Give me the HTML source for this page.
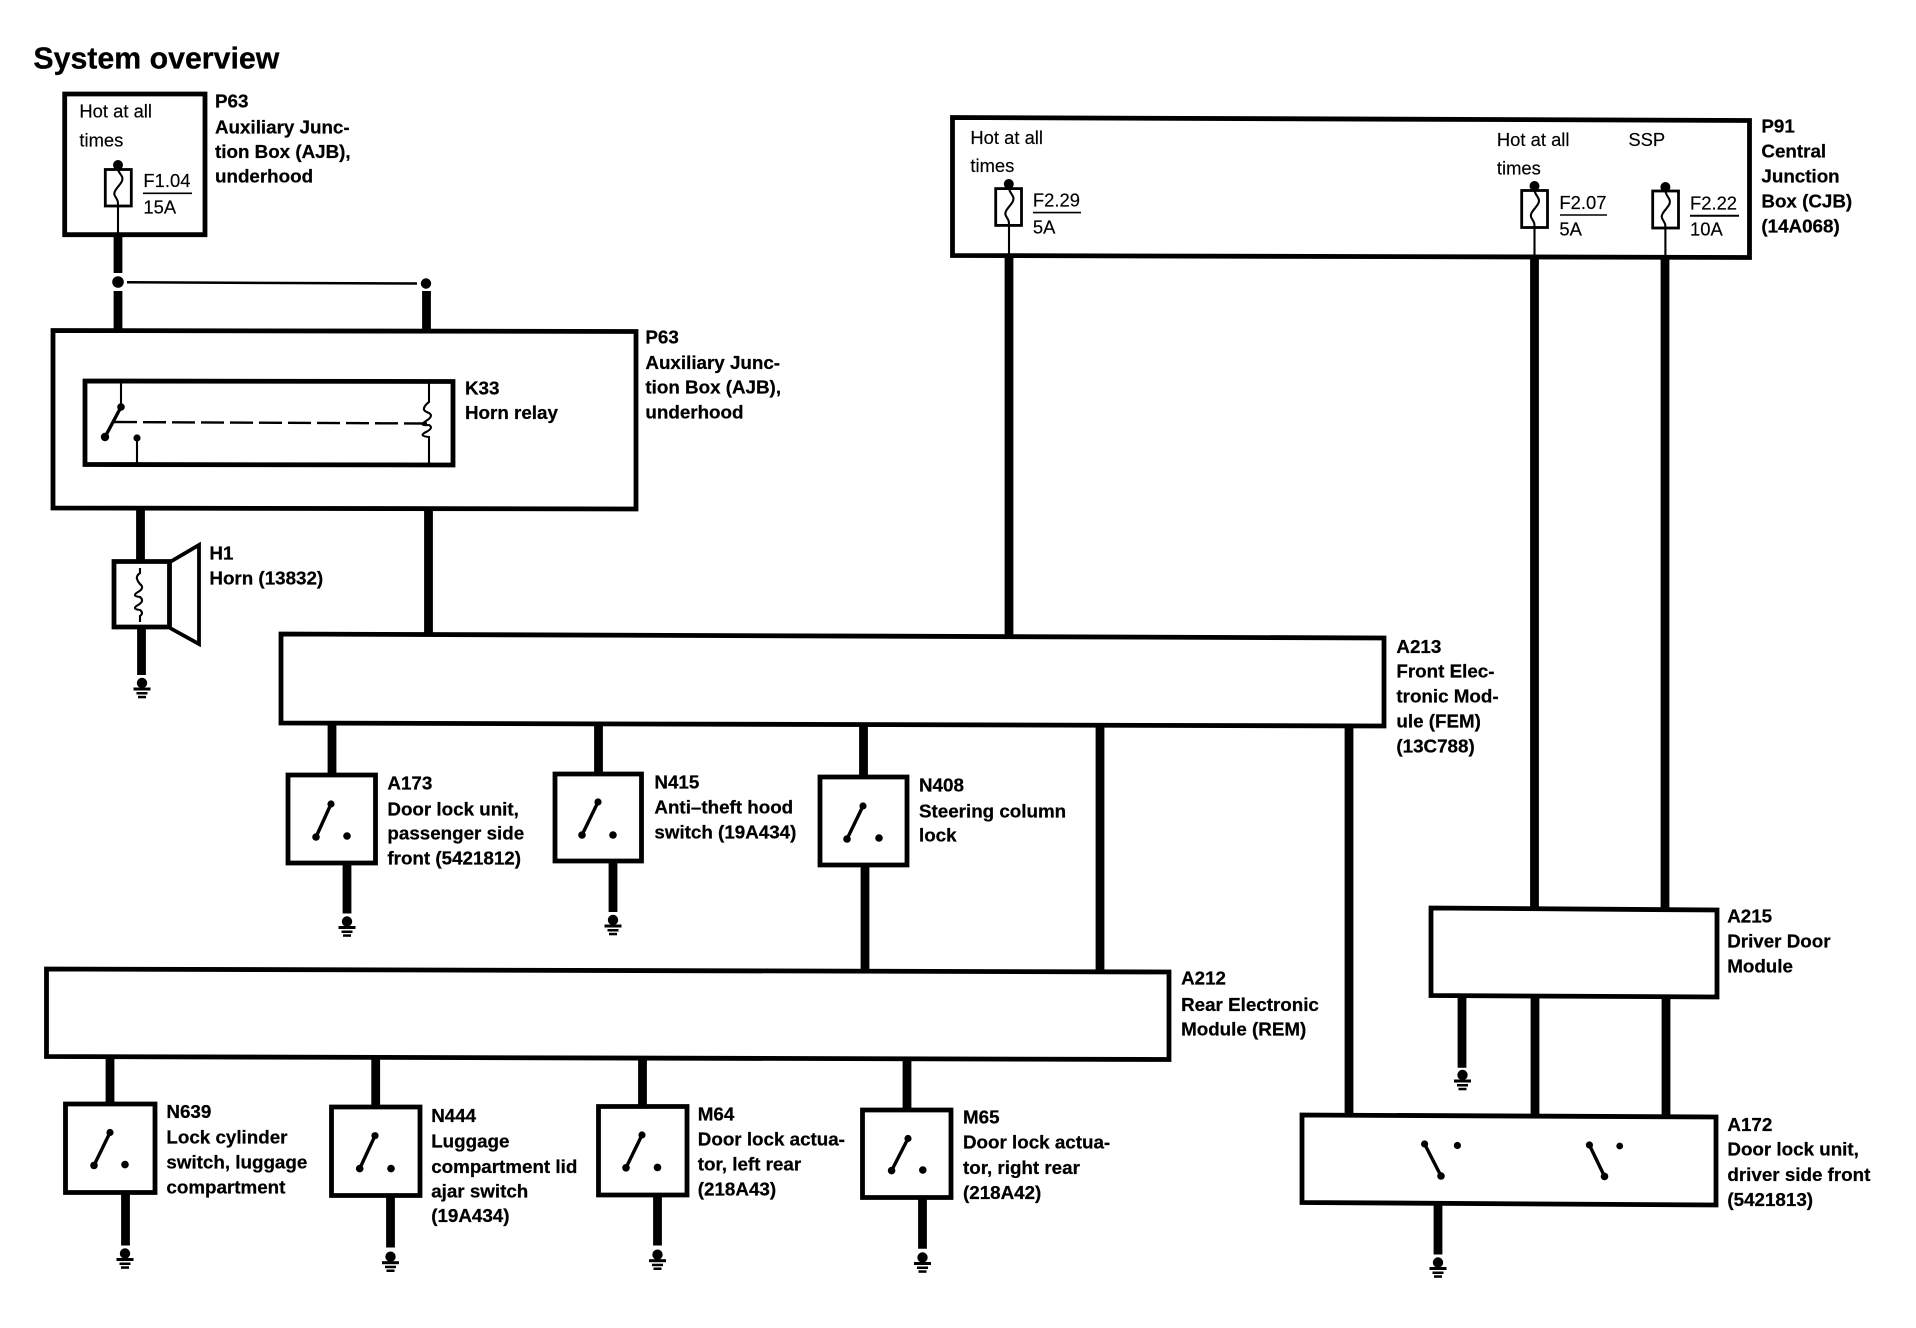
<!DOCTYPE html>
<html lang="en">
<head>
<meta charset="utf-8">
<title>System overview</title>
<style>
html,body{margin:0;padding:0;background:#fff;width:1916px;height:1328px;overflow:hidden}
svg{display:block}
text{font-family:"Liberation Sans",sans-serif;fill:#000;transform:translate(-.6px,-.4px)}
.t{font-size:30.3px;font-weight:bold;stroke:#000;stroke-width:.3}
.b{font-size:18.8px;font-weight:bold;stroke:#000;stroke-width:.25}
.r{font-size:18.4px;stroke:#000;stroke-width:.15}
.box{fill:none;stroke:#000;stroke-width:4.8;stroke-linejoin:miter}
.w{stroke:#000;stroke-width:8.8;fill:none}
.n{stroke:#000;stroke-width:2.1;fill:none}
.arm{stroke:#000;stroke-width:3.4;fill:none}
.f{fill:none;stroke:#000;stroke-width:2.8}
</style>
</head>
<body>
<svg width="1916" height="1328" viewBox="0 0 1916 1328" xmlns="http://www.w3.org/2000/svg">
<defs>
<g id="gnd">
<circle cx="0" cy="0" r="5.2" fill="#000"/>
<rect x="-8.5" y="4.5" width="17" height="3" fill="#000"/>
<rect x="-5.5" y="9" width="11" height="2.5" fill="#000"/>
<rect x="-4" y="12.8" width="8" height="2.5" fill="#000"/>
</g>
</defs>
<rect width="1916" height="1328" fill="#fff"/>

<text class="t" x="34" y="69">System overview</text>

<!-- P63 top box -->
<polygon class="box" points="64.7,94 205,94 205,234.7 64.7,234.7"/>
<text class="r" x="80" y="118">Hot at all</text>
<text class="r" x="80" y="147">times</text>
<circle cx="118" cy="165" r="5" fill="#000"/>
<rect class="f" x="105.3" y="169.5" width="26" height="36.5"/>
<path class="n" d="M118 169.5C119 174 124 176 122 181S112 191 115 196S118 201 118 206V236"/>
<text class="r" x="144" y="187.5">F1.04</text>
<line x1="143" y1="193.3" x2="192" y2="193.3" stroke="#000" stroke-width="1.6"/>
<text class="r" x="144" y="214">15A</text>
<text class="b" x="215.6" y="108">P63</text>
<text class="b" x="215.6" y="134">Auxiliary Junc-</text>
<text class="b" x="215.6" y="158.5">tion Box (AJB),</text>
<text class="b" x="215.6" y="183">underhood</text>

<!-- junction -->
<line class="w" x1="118" y1="236" x2="118" y2="273"/>
<circle cx="118" cy="282" r="5.8" fill="#000"/>
<line x1="127" y1="282.3" x2="417" y2="283.5" stroke="#000" stroke-width="2.5"/>
<circle cx="426" cy="283.5" r="5.2" fill="#000"/>
<line class="w" x1="118" y1="291" x2="118" y2="330"/>
<line class="w" x1="426.5" y1="291" x2="426.5" y2="331"/>

<!-- P63 big box -->
<polygon class="box" points="53,330.5 636,331.5 636,509 53,508"/>
<text class="b" x="646" y="344">P63</text>
<text class="b" x="646" y="369.6">Auxiliary Junc-</text>
<text class="b" x="646" y="394">tion Box (AJB),</text>
<text class="b" x="646" y="419">underhood</text>

<!-- K33 -->
<polygon class="box" points="85,381 453,381.5 453,465 85,464.5"/>
<line class="n" x1="121" y1="383" x2="121" y2="407"/>
<circle cx="121" cy="407" r="3.8" fill="#000"/>
<line class="arm" x1="121" y1="407" x2="105" y2="437"/>
<circle cx="105" cy="437" r="4.2" fill="#000"/>
<line x1="114" y1="422" x2="427" y2="423.5" stroke="#000" stroke-width="2.4" stroke-dasharray="23 6"/>
<circle cx="137" cy="438" r="3.6" fill="#000"/>
<line class="n" x1="137" y1="438" x2="137" y2="464"/>
<path class="n" d="M429 383V402Q425 405 424 408T429 413Q434 416 426 421T429 425Q434 428 426 432T429 437V464"/>
<text class="b" x="465.6" y="395">K33</text>
<text class="b" x="465.6" y="419.6">Horn relay</text>

<!-- Horn -->
<line class="w" x1="140.5" y1="510" x2="140.5" y2="561"/>
<polygon class="box" points="114,561.5 169.5,561.5 169.5,627 114,627"/>
<polyline points="170,562 199,545 199,644 170,628" fill="none" stroke="#000" stroke-width="3.8"/>
<path class="n" d="M140 568V573Q136 576 137 579T140 584Q145 588 138 592T140 597Q145 601 138 605T140 610Q144 613 140 616V622"/>
<line class="w" x1="141.5" y1="628" x2="141.5" y2="675"/>
<use href="#gnd" x="142" y="683"/>
<text class="b" x="210" y="560">H1</text>
<text class="b" x="210" y="585">Horn (13832)</text>

<line class="w" x1="428.5" y1="510" x2="428.5" y2="634"/>

<!-- P91 -->
<polygon class="box" points="952.5,117.5 1749.5,120.5 1749.5,257.5 952.5,255.5"/>
<text class="r" x="971" y="144.5">Hot at all</text>
<text class="r" x="971" y="172.4">times</text>
<circle cx="1008.8" cy="184" r="5" fill="#000"/>
<rect class="f" x="995.7" y="188.6" width="25.8" height="36.8"/>
<path class="n" d="M1009 188.6C1010 194 1015 196 1013 201S1003 211 1006 216S1009 221 1009 225.5V258"/>
<text class="r" x="1033.5" y="207">F2.29</text>
<line x1="1033" y1="212.6" x2="1081" y2="212.6" stroke="#000" stroke-width="1.6"/>
<text class="r" x="1033.5" y="234">5A</text>

<text class="r" x="1497.5" y="146.5">Hot at all</text>
<text class="r" x="1497.5" y="175">times</text>
<circle cx="1534.5" cy="186" r="5" fill="#000"/>
<rect class="f" x="1521.7" y="190.5" width="25.8" height="37"/>
<path class="n" d="M1534.5 190.5C1535.5 196 1540.5 198 1538.5 203S1528.5 213 1531.5 218S1534.5 223 1534.5 227.5V260"/>
<text class="r" x="1560" y="209.5">F2.07</text>
<line x1="1560" y1="215" x2="1607" y2="215" stroke="#000" stroke-width="1.6"/>
<text class="r" x="1560" y="236">5A</text>

<text class="r" x="1629" y="146.5">SSP</text>
<circle cx="1665.4" cy="187" r="5" fill="#000"/>
<rect class="f" x="1652.7" y="191" width="25.8" height="37"/>
<path class="n" d="M1665.4 191C1666.4 197 1671.4 199 1669.4 204S1659.4 214 1662.4 219S1665.4 224 1665.4 228.5V260"/>
<text class="r" x="1690.6" y="210">F2.22</text>
<line x1="1690" y1="215.7" x2="1739" y2="215.7" stroke="#000" stroke-width="2"/>
<text class="r" x="1690.6" y="236">10A</text>

<text class="b" x="1762" y="132.7">P91</text>
<text class="b" x="1762" y="158">Central</text>
<text class="b" x="1762" y="182.7">Junction</text>
<text class="b" x="1762" y="208">Box (CJB)</text>
<text class="b" x="1762" y="232.7">(14A068)</text>

<!-- P91 wires -->
<line class="w" x1="1009" y1="258" x2="1009" y2="637"/>
<line class="w" x1="1534.5" y1="259" x2="1534.5" y2="907"/>
<line class="w" x1="1665" y1="259" x2="1665" y2="908"/>

<!-- A213 -->
<polygon class="box" points="281,634 1384,638 1384,726 281,723"/>
<text class="b" x="1397" y="653.6">A213</text>
<text class="b" x="1397" y="678">Front Elec-</text>
<text class="b" x="1397" y="703">tronic Mod-</text>
<text class="b" x="1397" y="728">ule (FEM)</text>
<text class="b" x="1397" y="753">(13C788)</text>

<line class="w" x1="332" y1="724" x2="332" y2="775"/>
<line class="w" x1="598.5" y1="724" x2="598.5" y2="773"/>
<line class="w" x1="863.5" y1="725" x2="863.5" y2="776"/>
<line class="w" x1="1100" y1="726" x2="1100" y2="972"/>
<line class="w" x1="1349" y1="727" x2="1349" y2="1116"/>

<!-- A173 -->
<polygon class="box" points="288,775 375.5,775 375.5,863 288,863"/>
<line class="arm" x1="331" y1="804" x2="316" y2="837"/>
<circle cx="331" cy="804" r="3.6" fill="#000"/><circle cx="316" cy="837" r="3.8" fill="#000"/><circle cx="347" cy="836" r="3.8" fill="#000"/>
<line class="w" x1="347" y1="865" x2="347" y2="913.5"/>
<use href="#gnd" x="347" y="921.5"/>
<text class="b" x="388" y="790">A173</text>
<text class="b" x="388" y="816">Door lock unit,</text>
<text class="b" x="388" y="840">passenger side</text>
<text class="b" x="388" y="865">front (5421812)</text>

<!-- N415 -->
<polygon class="box" points="555,774 641.5,774 641.5,861 555,861"/>
<line class="arm" x1="598" y1="802" x2="582" y2="835"/>
<circle cx="598" cy="802" r="3.6" fill="#000"/><circle cx="582" cy="835" r="3.8" fill="#000"/><circle cx="613" cy="835" r="3.8" fill="#000"/>
<line class="w" x1="613" y1="863" x2="613" y2="912"/>
<use href="#gnd" x="613" y="920"/>
<text class="b" x="655" y="789">N415</text>
<text class="b" x="655" y="814">Anti–theft hood</text>
<text class="b" x="655" y="839">switch (19A434)</text>

<!-- N408 -->
<polygon class="box" points="820,777 907,777 907,865 820,865"/>
<line class="arm" x1="863" y1="806" x2="847" y2="839"/>
<circle cx="863" cy="806" r="3.6" fill="#000"/><circle cx="847" cy="839" r="3.8" fill="#000"/><circle cx="879" cy="838" r="3.8" fill="#000"/>
<line class="w" x1="865" y1="867" x2="865" y2="970"/>
<text class="b" x="919.6" y="792">N408</text>
<text class="b" x="919.6" y="818">Steering column</text>
<text class="b" x="919.6" y="842">lock</text>

<!-- A212 -->
<polygon class="box" points="46.5,969 1169,972 1169,1059.5 46.5,1056.5"/>
<text class="b" x="1181.7" y="985">A212</text>
<text class="b" x="1181.7" y="1011.5">Rear Electronic</text>
<text class="b" x="1181.7" y="1035.7">Module (REM)</text>

<line class="w" x1="110" y1="1057" x2="110" y2="1103"/>
<line class="w" x1="375.7" y1="1057" x2="375.7" y2="1106"/>
<line class="w" x1="642.5" y1="1058" x2="642.5" y2="1106"/>
<line class="w" x1="907" y1="1059" x2="907" y2="1108"/>

<!-- N639 -->
<polygon class="box" points="65.5,1104 155,1104 155,1192.5 65.5,1192.5"/>
<line class="arm" x1="110" y1="1132.5" x2="94" y2="1165.4"/>
<circle cx="110" cy="1132.5" r="3.6" fill="#000"/><circle cx="94" cy="1165.4" r="3.8" fill="#000"/><circle cx="125" cy="1164.6" r="3.8" fill="#000"/>
<line class="w" x1="125.5" y1="1194" x2="125.5" y2="1245.5"/>
<use href="#gnd" x="125" y="1253.5"/>
<text class="b" x="167" y="1118.5">N639</text>
<text class="b" x="167" y="1143.7">Lock cylinder</text>
<text class="b" x="167" y="1169">switch, luggage</text>
<text class="b" x="167" y="1193.8">compartment</text>

<!-- N444 -->
<polygon class="box" points="331.5,1107 420,1107 420,1195.5 331.5,1195.5"/>
<line class="arm" x1="375" y1="1135.7" x2="359.7" y2="1168.6"/>
<circle cx="375" cy="1135.7" r="3.6" fill="#000"/><circle cx="359.7" cy="1168.6" r="3.8" fill="#000"/><circle cx="391" cy="1168.6" r="3.8" fill="#000"/>
<line class="w" x1="390.5" y1="1197" x2="390.5" y2="1247.5"/>
<use href="#gnd" x="390.5" y="1256.7"/>
<text class="b" x="431.8" y="1122.5">N444</text>
<text class="b" x="431.8" y="1147.7">Luggage</text>
<text class="b" x="431.8" y="1173.4">compartment lid</text>
<text class="b" x="431.8" y="1197.8">ajar switch</text>
<text class="b" x="431.8" y="1222.6">(19A434)</text>

<!-- M64 -->
<polygon class="box" points="598.5,1106.5 687,1106.5 687,1195 598.5,1195"/>
<line class="arm" x1="642" y1="1135" x2="626" y2="1167.8"/>
<circle cx="642" cy="1135" r="3.6" fill="#000"/><circle cx="626" cy="1167.8" r="3.8" fill="#000"/><circle cx="657.5" cy="1167.4" r="3.8" fill="#000"/>
<line class="w" x1="657.5" y1="1196" x2="657.5" y2="1245.5"/>
<use href="#gnd" x="657.5" y="1254.7"/>
<text class="b" x="698.4" y="1121">M64</text>
<text class="b" x="698.4" y="1145.7">Door lock actua-</text>
<text class="b" x="698.4" y="1171">tor, left rear</text>
<text class="b" x="698.4" y="1195.8">(218A43)</text>

<!-- M65 -->
<polygon class="box" points="862.5,1110 951,1110 951,1197.5 862.5,1197.5"/>
<line class="arm" x1="908" y1="1138.5" x2="891.6" y2="1170.6"/>
<circle cx="908" cy="1138.5" r="3.6" fill="#000"/><circle cx="891.6" cy="1170.6" r="3.8" fill="#000"/><circle cx="922.8" cy="1170" r="3.8" fill="#000"/>
<line class="w" x1="922.5" y1="1199" x2="922.5" y2="1248.7"/>
<use href="#gnd" x="922.5" y="1257.5"/>
<text class="b" x="963.6" y="1123.7">M65</text>
<text class="b" x="963.6" y="1149">Door lock actua-</text>
<text class="b" x="963.6" y="1174.4">tor, right rear</text>
<text class="b" x="963.6" y="1199.6">(218A42)</text>

<!-- A215 -->
<polygon class="box" points="1431,908 1717,910 1717,997 1431,995.5"/>
<text class="b" x="1727.8" y="923">A215</text>
<text class="b" x="1727.8" y="948">Driver Door</text>
<text class="b" x="1727.8" y="973">Module</text>
<line class="w" x1="1462" y1="996" x2="1462" y2="1067.7"/>
<use href="#gnd" x="1462.5" y="1075"/>
<line class="w" x1="1535" y1="997" x2="1535" y2="1116"/>
<line class="w" x1="1666" y1="998" x2="1666" y2="1117"/>

<!-- A172 -->
<polygon class="box" points="1302,1115 1716,1117 1716,1205 1302,1202.5"/>
<line class="arm" x1="1424.6" y1="1144" x2="1441" y2="1176"/>
<circle cx="1424.6" cy="1144" r="3.6" fill="#000"/><circle cx="1441" cy="1176" r="3.8" fill="#000"/><circle cx="1457.4" cy="1145.5" r="3.6" fill="#000"/>
<line class="arm" x1="1589.4" y1="1145" x2="1604.5" y2="1176.4"/>
<circle cx="1589.4" cy="1145" r="3.6" fill="#000"/><circle cx="1604.5" cy="1176.4" r="3.8" fill="#000"/><circle cx="1619.7" cy="1146" r="3.4" fill="#000"/>
<line class="w" x1="1438" y1="1204" x2="1438" y2="1254.5"/>
<use href="#gnd" x="1438" y="1262.5"/>
<text class="b" x="1728" y="1131.6">A172</text>
<text class="b" x="1728" y="1156">Door lock unit,</text>
<text class="b" x="1728" y="1181.5">driver side front</text>
<text class="b" x="1728" y="1206.4">(5421813)</text>
</svg>
</body>
</html>
